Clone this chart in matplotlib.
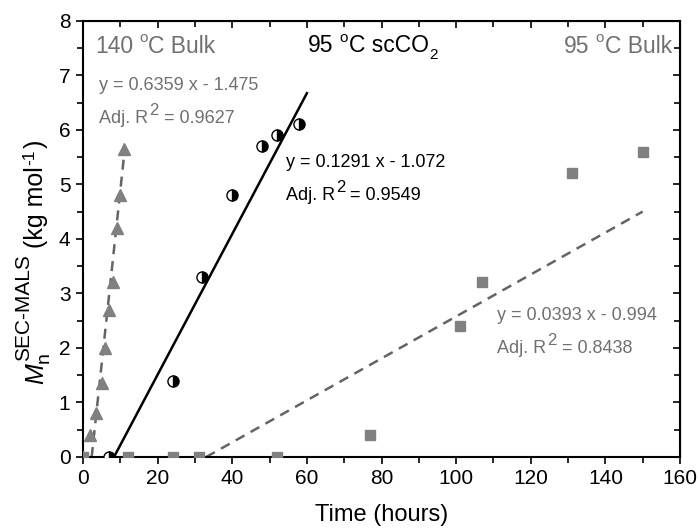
import matplotlib
matplotlib.use("Agg")
import matplotlib.pyplot as plt
from matplotlib.ticker import MultipleLocator
from matplotlib.transforms import IdentityTransform

plt.rcParams['font.family'] = ['Liberation Sans', 'DejaVu Sans']

# 140 C bulk (triangles)
t140_x = [0, 2, 3.5, 5, 6, 7, 8, 9, 10, 11]
t140_y = [0, 0.4, 0.8, 1.35, 2.0, 2.7, 3.2, 4.2, 4.8, 5.65]
fit140_x = [2.32, 11.2]
fit140_y = [0.0, 5.65]

# 95 C scCO2 (half-filled circles)
sc_x = [7, 24, 32, 40, 48, 52, 58]
sc_y = [0, 1.4, 3.3, 4.8, 5.7, 5.9, 6.1]
fitsc_x = [8.3, 60]
fitsc_y = [0.0, 6.67]

# 95 C bulk (squares)
b95_x = [0, 12, 24, 31, 52, 77, 101, 107, 131, 150]
b95_y = [0, 0, 0, 0, 0, 0.4, 2.4, 3.2, 5.2, 5.6]
fit95_x = [33, 150]
fit95_y = [0.0, 4.5]

grey = '#808080'
dgrey = '#646464'
tgrey = '#707070'

W, H = 699, 530
fig = plt.figure(figsize=(W / 100, H / 100), dpi=100)
ax = fig.add_axes([83 / W, 1 - 457 / H, 597 / W, 436.3 / H])

dash = (0, (4, 2.8))
ax.plot(fit140_x, fit140_y, color=dgrey, lw=1.8, ls=dash, zorder=2)
ax.plot(fitsc_x, fitsc_y, color='black', lw=1.8, zorder=2)
ax.plot(fit95_x, fit95_y, color=dgrey, lw=1.8, ls=dash, zorder=2)

ax.plot(t140_x, t140_y, ls='none', marker='^', ms=9, color=grey, mec=grey, zorder=3)
ax.plot(b95_x, b95_y, ls='none', marker='s', ms=7, color=grey, mec=grey, zorder=3)
ax.plot(sc_x, sc_y, ls='none', marker='o', ms=8, fillstyle='right', color='black',
        markerfacecoloralt='white', mec='black', mew=1.0, zorder=4)

ax.set_xlim(0, 160)
ax.set_ylim(0, 8)
ax.xaxis.set_major_locator(MultipleLocator(20))
ax.xaxis.set_minor_locator(MultipleLocator(10))
ax.yaxis.set_major_locator(MultipleLocator(1))
ax.yaxis.set_minor_locator(MultipleLocator(0.5))

for s in ax.spines.values():
    s.set_linewidth(1.5)

ax.tick_params(axis='both', which='both', direction='out', width=1.2, labelsize=15, pad=4)
ax.tick_params(which='major', length=5)
ax.tick_params(which='minor', length=4)

axt = ax.secondary_xaxis('top')
axt.xaxis.set_major_locator(MultipleLocator(20))
axt.xaxis.set_minor_locator(MultipleLocator(10))
axt.tick_params(which='both', direction='in', labeltop=False, width=1.2)
axt.tick_params(which='major', length=5)
axt.tick_params(which='minor', length=4)
axr = ax.secondary_yaxis('right')
axr.yaxis.set_major_locator(MultipleLocator(1))
axr.yaxis.set_minor_locator(MultipleLocator(0.5))
axr.tick_params(which='both', direction='in', labelright=False, width=1.2)
axr.tick_params(which='major', length=5)
axr.tick_params(which='minor', length=4)

renderer = fig.canvas.get_renderer()


def compose(pieces, x0, y0, color, rot=0, align='left'):
    """pieces: (text, size, rise_px, gap_before_px, style). x0,y0 image px of baseline start."""
    made = []
    a = 0.0
    for s, size, rise, gap, style in pieces:
        a += gap
        t = fig.text(0, 0, s, transform=IdentityTransform(), fontsize=size, color=color,
                     style=style, rotation=rot, rotation_mode='anchor',
                     ha='left', va='baseline')
        bb = t.get_window_extent(renderer=renderer)
        made.append((t, a, rise))
        a += bb.width if rot == 0 else bb.height
    shift = 0.0
    if align == 'right':
        shift = -a
    elif align == 'center':
        shift = -a / 2
    for t, pos, rise in made:
        if rot == 0:
            t.set_position((x0 + pos + shift, H - y0 + rise))
        else:
            t.set_position((x0 - rise, H - y0 + pos + shift))


big = 16.5
deg = 11
eq = 13

compose([('140', big, 0, 0, 'normal'), ('o', deg, 10.5, 6, 'normal'),
         ('C Bulk', big, 0, 1, 'normal')], 95, 53, tgrey)
compose([('95', big, 0, 0, 'normal'), ('o', deg, 10.5, 6, 'normal'),
         ('C scCO', big, 0, 1, 'normal'), ('2', deg, -7, 0.5, 'normal')], 308, 52, 'black')
compose([('95', big, 0, 0, 'normal'), ('o', deg, 10.5, 6, 'normal'),
         ('C Bulk', big, 0, 1, 'normal')], 672, 53, tgrey, align='right')

def eq_block(line1, r2, x, y, color):
    compose([(line1, eq, 0, 0, 'normal')], x, y, color)
    compose([('Adj. R', eq, 0, 0, 'normal'), ('2', 12, 8, 1, 'normal'),
             ('= ' + r2, eq, 0, 5, 'normal')], x, y + 33, color)

eq_block('y = 0.6359 x - 1.475', '0.9627', 99, 90, tgrey)
eq_block('y = 0.1291 x - 1.072', '0.9549', 286, 167, 'black')
eq_block('y = 0.0393 x - 0.994', '0.8438', 497, 320, tgrey)

# axis labels
fig.text(381.5, H - 521, 'Time (hours)', transform=IdentityTransform(), fontsize=17,
         ha='center', va='baseline')
compose([('M', 18, 0, 0, 'italic'), ('n', 14, -6, 0, 'normal'),
         ('SEC-MALS', 15, 14, -9, 'normal'), ('(kg mol', 18, 0, 7, 'normal'),
         ('-1', 12.5, 9, 1, 'normal'), (')', 18, 0, 1, 'normal')],
        43, 262, 'black', rot=90, align='center')

fig.savefig('out.png', dpi=100)
